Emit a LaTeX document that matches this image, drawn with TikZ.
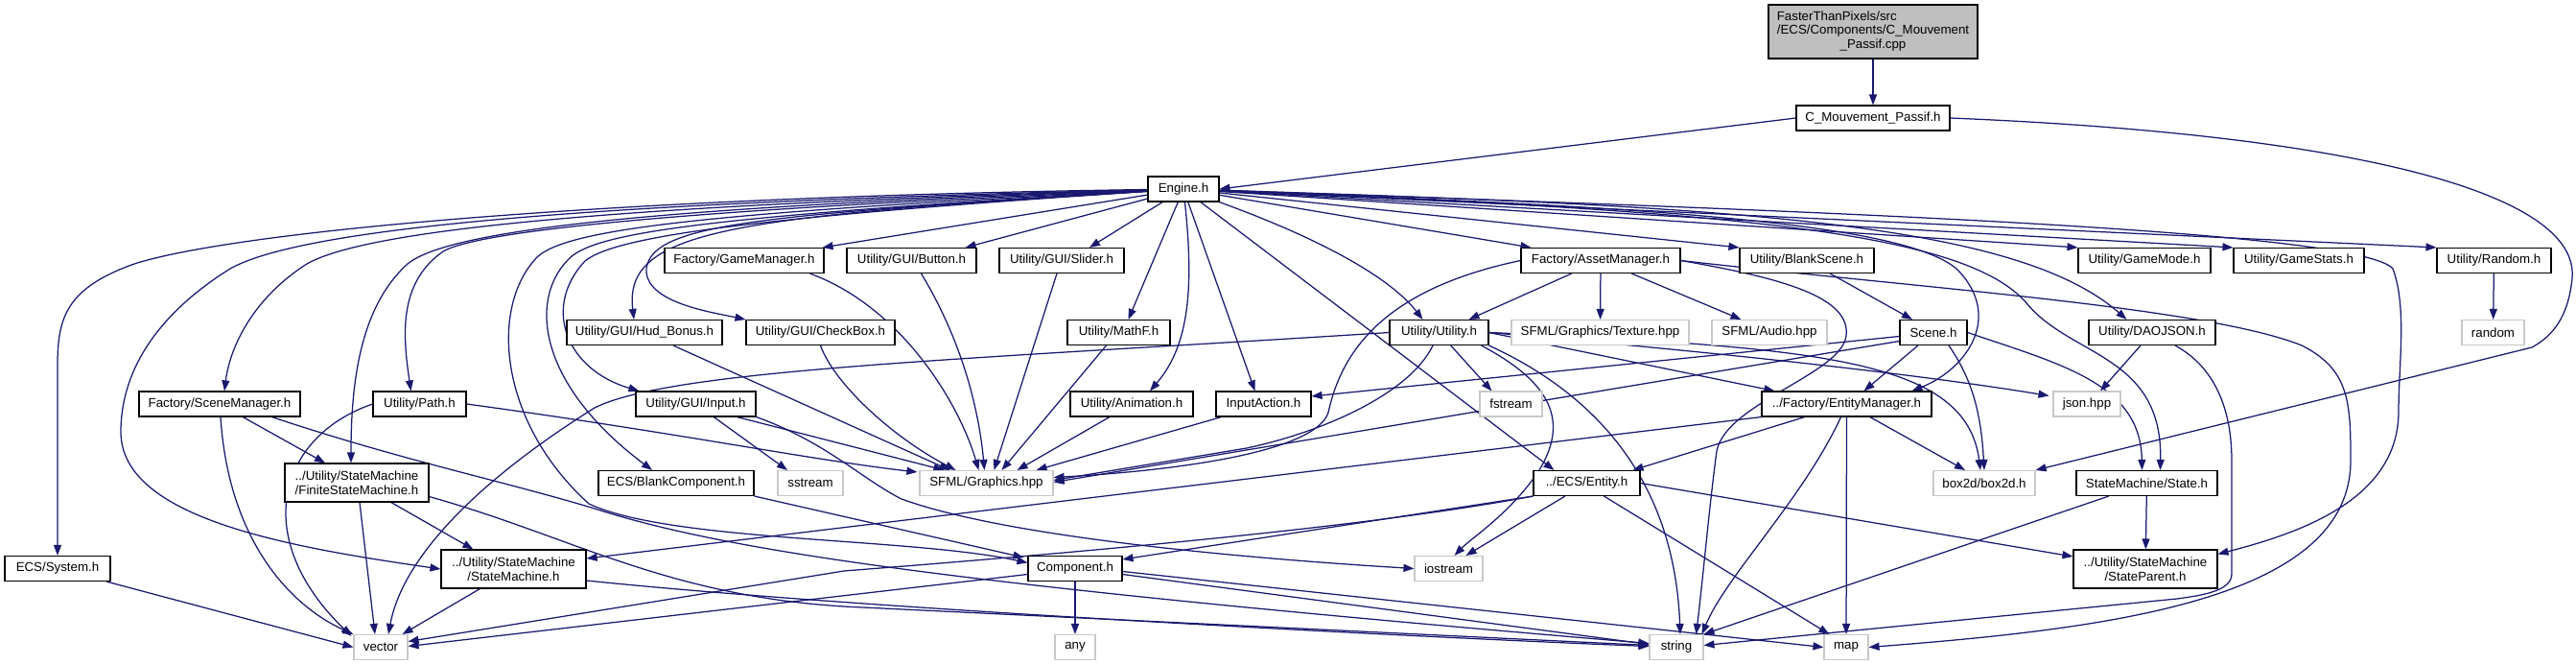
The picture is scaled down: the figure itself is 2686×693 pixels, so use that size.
\documentclass[tikz,border=0pt]{standalone}
\usepackage{fontspec}
\setmainfont{Liberation Sans}
\usetikzlibrary{arrows.meta,calc}
\pgfdeclarelayer{bg}
\pgfdeclarelayer{canvas}
\pgfsetlayers{canvas,bg,main}
\definecolor{edgec}{HTML}{191970}
\definecolor{topfill}{HTML}{BFBFBF}
\definecolor{grayb}{HTML}{C8C8C8}
\begin{document}
\begin{tikzpicture}[x=1pt,y=-1pt,
 bx/.style={draw=black, fill=white, line width=1.1pt, inner sep=0pt, minimum height=26pt, align=center, font=\fontsize{13.3}{14.5}\selectfont},
 gx/.style={bx, draw=grayb},
 tall/.style={minimum height=40pt},
 e/.style={draw=edgec, line width=1.25pt, -{Triangle[length=11pt,width=8pt]}},
]
\begin{pgfonlayer}{canvas}
\fill[white] (0,0) rectangle (2686,693);
\end{pgfonlayer}
\useasboundingbox (0,0) rectangle (2686,693);
% nodes
\node[bx,fill=topfill,minimum width=218pt,minimum height=56pt] (top) at (1953,33) {\begin{tabular}{@{}l@{}}FasterThanPixels/src\\/ECS/Components/C\_Mouvement\\\multicolumn{1}{@{}c@{}}{\_Passif.cpp}\end{tabular}};
\node[bx,minimum width=160pt] (cmp) at (1953,123) {C\_Mouvement\_Passif.h};
\node[bx,minimum width=74pt] (engine) at (1234,197) {Engine.h};
% row 1
\node[bx,minimum width=166pt] (gm) at (776,271.5) {Factory/GameManager.h};
\node[bx,minimum width=135pt] (button) at (950.5,271.5) {Utility/GUI/Button.h};
\node[bx,minimum width=130pt] (slider) at (1107,271.5) {Utility/GUI/Slider.h};
\node[bx,minimum width=166pt] (asset) at (1669,271.5) {Factory/AssetManager.h};
\node[bx,minimum width=140pt] (blank) at (1884,271.5) {Utility/BlankScene.h};
\node[bx,minimum width=138pt] (gmode) at (2236,271.5) {Utility/GameMode.h};
\node[bx,minimum width=136pt] (gstats) at (2397,271.5) {Utility/GameStats.h};
\node[bx,minimum width=119pt] (random) at (2600.5,271.5) {Utility/Random.h};
% row 2
\node[bx,minimum width=162pt] (hud) at (672,346.5) {Utility/GUI/Hud\_Bonus.h};
\node[bx,minimum width=155pt] (checkbox) at (855.5,346.5) {Utility/GUI/CheckBox.h};
\node[bx,minimum width=107pt] (mathf) at (1166.5,346.5) {Utility/MathF.h};
\node[bx,minimum width=103pt] (utility) at (1500.5,346.5) {Utility/Utility.h};
\node[gx,minimum width=185pt] (texture) at (1668.5,346.5) {SFML/Graphics/Texture.hpp};
\node[gx,minimum width=120pt] (audio) at (1845,346.5) {SFML/Audio.hpp};
\node[bx,minimum width=70pt] (scene) at (2016,346.5) {Scene.h};
\node[bx,minimum width=132pt] (daojson) at (2244,346.5) {Utility/DAOJSON.h};
\node[gx,minimum width=65pt] (rnd) at (2599.5,346.5) {random};
% row 3
\node[bx,minimum width=168pt] (scenemgr) at (229,421) {Factory/SceneManager.h};
\node[bx,minimum width=97pt] (path) at (437.5,421) {Utility/Path.h};
\node[bx,minimum width=125pt] (input) at (725.5,421) {Utility/GUI/Input.h};
\node[bx,minimum width=128pt] (anim) at (1180,421) {Utility/Animation.h};
\node[bx,minimum width=99pt] (inputaction) at (1317.5,421) {InputAction.h};
\node[gx,minimum width=65pt] (fstream) at (1575.5,421) {fstream};
\node[bx,minimum width=177pt] (entmgr) at (1925.5,421) {../Factory/EntityManager.h};
\node[gx,minimum width=70pt] (json) at (2176,421) {json.hpp};
% row 4
\node[bx,tall,minimum width=150pt] (fsm) at (372,503) {../Utility/StateMachine\\/FiniteStateMachine.h};
\node[bx,minimum width=162pt] (blankcomp) at (705,503.5) {ECS/BlankComponent.h};
\node[gx,minimum width=68pt] (sstream) at (845,503.5) {sstream};
\node[gx,minimum width=139pt] (graphics) at (1028.5,503.5) {SFML/Graphics.hpp};
\node[bx,minimum width=111pt] (entity) at (1654.5,503.5) {../ECS/Entity.h};
\node[gx,minimum width=106pt] (box2d) at (2069,503.5) {box2d/box2d.h};
\node[bx,minimum width=147pt] (state) at (2238.5,503.5) {StateMachine/State.h};
% row 5
\node[bx,minimum width=110pt] (system) at (60,592.5) {ECS/System.h};
\node[bx,tall,minimum width=151pt] (sm) at (535.5,593) {../Utility/StateMachine\\/StateMachine.h};
\node[bx,minimum width=98pt] (component) at (1121,592.5) {Component.h};
\node[gx,minimum width=71pt] (iostream) at (1510.5,592.5) {iostream};
\node[bx,tall,minimum width=150pt] (stateparent) at (2237,593) {../Utility/StateMachine\\/StateParent.h};
% row 6
\node[gx,minimum width=56pt] (vector) at (397,674.5) {vector};
\node[gx,minimum width=42pt] (any) at (1121,674.5) {any};
\node[gx,minimum width=56pt] (string) at (1748,674.5) {string};
\node[gx,minimum width=46pt] (map) at (1925,674.5) {map};

\begin{pgfonlayer}{bg}
\draw[e] (top) -- (cmp);
\draw[e] (cmp.west) -- (engine.east);
\draw[e] (cmp.east) .. controls (2450,140) and (2690,200) .. (2682,290) .. controls (2678,330) and (2662,350) .. (2640,362) -- (box2d.north east);
% engine fan left
\draw[e] (engine) .. controls (650,205) and (250,240) .. (140,275) .. controls (70,300) and (60,330) .. (60,380) -- (system.north);
\draw[e] (engine) .. controls (650,210) and (320,235) .. (240,280) .. controls (160,330) and (126,390) .. (126,450) .. controls (126,540) and (300,570) .. (sm.west);
\draw[e] (engine) .. controls (700,212) and (390,235) .. (320,275) .. controls (265,310) and (240,360) .. ($(scenemgr.north)+(5,0)$);
\draw[e] (engine) .. controls (700,215) and (470,238) .. (425,275) .. controls (375,320) and (366,400) .. ($(fsm.north)+(-6,0)$);
\draw[e] (engine) .. controls (720,218) and (500,240) .. (462,262) .. controls (415,295) and (420,350) .. ($(path.north)+(-9,0)$);
\draw[e] (engine) .. controls (720,222) and (590,240) .. (560,268) .. controls (510,320) and (520,440) .. (614,525) .. controls (700,565) and (950,560) .. ($(component.west)+(0,-6)$);
\draw[e] (engine) .. controls (740,225) and (625,242) .. (595,268) .. controls (550,310) and (560,400) .. ($(blankcomp.north)+(-25,0)$);
\draw[e] (engine) .. controls (760,228) and (640,248) .. (610,272) .. controls (565,320) and (590,385) .. ($(input.north west)+(4,0)$);
\draw[e] (engine) .. controls (760,226) and (650,240) .. ($(hud.north)+(-11,0)$);
\draw[e] (engine) .. controls (800,224) and (680,232) .. (674,280) .. controls (672,315) and (740,325) .. (checkbox.north west);
\draw[e] (engine) -- ($(gm.north east)+(-2,0)$);
\draw[e] (engine) -- ($(button.north east)+(-12,0)$);
\draw[e] (engine) -- ($(slider.north)+(29,0)$);
\draw[e] (engine) -- ($(mathf.north)+(10,0)$);
\draw[e] (engine) .. controls (1245,300) and (1240,360) .. ($(anim.north)+(19,0)$);
\draw[e] (engine) -- ($(inputaction.north)+(-9,0)$);
\draw[e] (engine) -- ($(entity.north west)+(22,0)$);
\draw[e] (engine) .. controls (1380,250) and (1450,290) .. ($(utility.north)+(-17,0)$);
\draw[e] (engine) -- ($(asset.north west)+(11,0)$);
\draw[e] (engine) -- (blank.north west);
\draw[e] (engine) -- (gmode.north west);
\draw[e] (engine) -- (gstats.north west);
\draw[e] (engine) -- (random.north west);
\draw[e] (engine) .. controls (1700,215) and (1980,230) .. (2040,280) .. controls (2090,330) and (2050,385) .. ($(entmgr.north)+(68,0)$);
\draw[e] (engine) .. controls (1800,215) and (2100,230) .. ($(daojson.north west)+(40,0)$);
\draw[e] (engine) .. controls (1800,220) and (2050,240) .. (2114,317) .. controls (2160,372) and (2255,370) .. ($(state.north)+(14,0)$);
\draw[e] (engine) .. controls (1900,220) and (2460,240) .. (2495,280) .. controls (2510,320) and (2501,380) .. (2501,430) .. controls (2500,520) and (2400,555) .. ($(stateparent.north east)+(0,5)$);
% asset manager
\draw[e] (asset) -- ($(utility.north)+(31,0)$);
\draw[e] (asset) -- (texture);
\draw[e] (asset) -- ($(audio.north west)+(31,0)$);
\draw[e] (asset.west) .. controls (1450,300) and (1400,360) .. (1385,430) .. controls (1370,475) and (1200,492) .. ($(graphics.east)+(0,-6)$);
\draw[e] (asset.east) .. controls (2000,300) and (2300,320) .. (2400,360) .. controls (2450,385) and (2451,420) .. (2451,480) .. controls (2451,625) and (2200,655) .. (map.east);
\draw[e] (asset.east) .. controls (1860,290) and (1930,310) .. (1925,350) .. controls (1920,390) and (1800,420) .. (1790,470) .. controls (1782,530) and (1776,600) .. ($(string.north east)+(-8,0)$);
% utility
\draw[e] (utility.west) .. controls (1000,375) and (700,385) .. (620,425) .. controls (500,500) and (420,580) .. ($(vector.north)+(8,0)$);
\draw[e] (utility) .. controls (1470,410) and (1380,450) .. (1300,467) -- ($(graphics.east)+(0,-3)$);
\draw[e] (utility) -- ($(fstream.north)+(-20,0)$);
\draw[e] ($(utility.south east)+(-8,0)$) .. controls (1620,400) and (1635,440) .. (1605,490) .. controls (1575,535) and (1535,560) .. ($(iostream.north)+(6,0)$);
\draw[e] (utility.south east) .. controls (1640,400) and (1745,480) .. ($(string.north)+(4,0)$);
\draw[e] (utility.east) -- ($(entmgr.north west)+(14,0)$);
\draw[e] (utility.east) .. controls (1800,368) and (2000,390) .. ($(json.north west)+(-4,5)$);
\draw[e] (utility.east) .. controls (1900,362) and (2050,375) .. ($(box2d.north)+(-4,0)$);
% scene
\draw[e] (blank) -- ($(scene.north)+(-22,0)$);
\draw[e] ($(scene.west)+(0,4)$) -- ($(inputaction.east)+(0,-8)$);
\draw[e] ($(scene.west)+(0,9)$) -- ($(graphics.east)+(0,-1)$);
\draw[e] (scene) -- ($(entmgr.north)+(18,0)$);
\draw[e] ($(scene.south)+(16,0)$) .. controls (2060,400) and (2066,440) .. (box2d.north);
\draw[e] (scene.east) .. controls (2150,380) and (2232,400) .. ($(state.north)+(-5,0)$);
% daojson
\draw[e] (daojson) -- ($(json.north)+(14,0)$);
\draw[e] ($(daojson.south)+(24,0)$) .. controls (2305,380) and (2327,420) .. (2327,480) -- (2327,598) .. controls (2327,615) and (2300,620) .. (2270,624) -- ($(string.east)+(0,-2)$);
\draw[e] (random) -- (rnd);
% entity manager
\draw[e] (entmgr) -- ($(entity.north east)+(-8,0)$);
\draw[e] (entmgr.south west) -- ($(sm.east)+(0,-11)$);
\draw[e] ($(entmgr.south)+(-6,0)$) .. controls (1880,520) and (1800,600) .. ($(string.north east)+(-2,0)$);
\draw[e] (entmgr) -- (map);
\draw[e] (entmgr) -- ($(box2d.north)+(-20,0)$);
% entity
\draw[e] (entity.south west) -- ($(component.north east)+(0,4)$);
\draw[e] (entity.south west) .. controls (1450,545) and (1200,570) .. (880,595) -- ($(vector.east)+(0,-6)$);
\draw[e] (entity) -- ($(iostream.north)+(18,0)$);
\draw[e] ($(entity.south)+(18,0)$) -- ($(map.north west)+(6,0)$);
\draw[e] (entity.east) -- ($(stateparent.west)+(0,-13)$);
% state
\draw[e] (state) -- (stateparent);
\draw[e] (state) -- (string.north east);
% component
\draw[e] (component) -- (any);
\draw[e] ($(component.west)+(0,6)$) -- ($(vector.east)+(0,-1)$);
\draw[e] ($(component.east)+(0,6)$) -- ($(string.west)+(0,-3)$);
\draw[e] ($(component.east)+(0,3)$) -- (map.west);
% state machines
\draw[e] (sm) -- ($(vector.north east)+(-6,0)$);
\draw[e] ($(sm.east)+(0,12)$) .. controls (900,635) and (1500,665) .. ($(string.west)+(0,-1)$);
\draw[e] (fsm) -- ($(sm.north west)+(34,0)$);
\draw[e] ($(fsm.south)+(3,0)$) -- ($(vector.north)+(-6,0)$);
\draw[e] ($(fsm.south east)+(0,-6)$) .. controls (600,560) and (700,625) .. (900,633) -- ($(string.west)+(0,-2)$);
% scene manager
\draw[e] ($(scenemgr.south)+(1,0)$) .. controls (238,560) and (300,630) .. (vector.north west);
\draw[e] (scenemgr) -- ($(fsm.north)+(-33,0)$);
\draw[e] ($(scenemgr.south east)+(-30,0)$) .. controls (420,480) and (520,500) .. (620,530) .. controls (760,575) and (1000,610) .. ($(string.west)+(0,-4)$);
% path
\draw[e] (path.west) .. controls (290,455) and (260,560) .. ($(vector.north west)+(-2,2)$);
\draw[e] (path.east) .. controls (700,450) and (850,480) .. ($(graphics.north west)+(-2,2)$);
% input
\draw[e] (input) -- ($(sstream.north)+(-24,0)$);
\draw[e] ($(input.south east)+(-20,0)$) -- ($(graphics.north west)+(26,0)$);
\draw[e] (input.south east) .. controls (860,460) and (900,500) .. (940,520) .. controls (1050,560) and (1300,582) .. (iostream.west);
% GUI and others into graphics
\draw[e] ($(hud.south)+(30,0)$) -- ($(graphics.north west)+(32,0)$);
\draw[e] (checkbox.south) .. controls (870,400) and (930,455) .. ($(graphics.north west)+(38,0)$);
\draw[e] (blankcomp.south east) -- ($(component.north west)+(-4,2)$);
\draw[e] ($(gm.south east)+(-15,0)$) .. controls (940,320) and (1000,420) .. ($(graphics.north)+(-8,0)$);
\draw[e] ($(button.south)+(10,0)$) .. controls (1000,350) and (1020,420) .. ($(graphics.north)+(-2,0)$);
\draw[e] ($(slider.south)+(-5,0)$) -- ($(graphics.north)+(8,0)$);
\draw[e] ($(mathf.south)+(-13,0)$) -- ($(graphics.north)+(16,0)$);
\draw[e] ($(anim.south)+(-23,0)$) -- ($(graphics.north east)+(-38,0)$);
\draw[e] ($(inputaction.south)+(-44,0)$) -- ($(graphics.north east)+(-18,0)$);
\draw[e] (system) -- (vector.west);
\end{pgfonlayer}
\end{tikzpicture}
\end{document}
